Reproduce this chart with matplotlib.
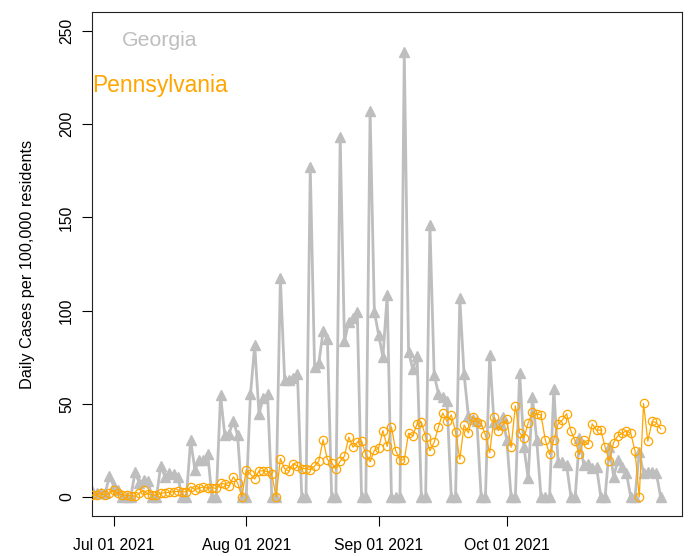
import matplotlib
matplotlib.use("Agg")
import matplotlib.pyplot as plt
import pandas as pd

plt.rcParams["font.family"] = ["Liberation Sans", "DejaVu Sans"]

# one value per day, Jun 26 2021 .. Nov 06 2021
dates = pd.date_range("2021-06-26", "2021-11-06", freq="D")

georgia = [3, 2, 2, 2, 11, 6, 4, 0, 0, 0,
           13.5, 7.3, 9, 8.3, 0, 0, 16.7, 10.8, 13, 12.5,
           10.8, 0, 0, 30.3, 14.6, 20, 20, 22.9, 0, 0,
           54.6, 33, 34, 41, 33, 0, 0, 55, 81.4, 44.5,
           53.3, 55, 0, 0, 117.5, 63, 63, 64, 65.8, 0,
           0, 177, 70, 72, 88.8, 85, 0, 0, 193, 83.5,
           94, 96, 99.5, 0, 0, 207, 99.5, 87, 75, 108.3,
           0, 0, 0, 239, 78, 68.4, 75.5, 0, 0, 146,
           65.4, 55.5, 53.4, 51.3, 0, 0, 106.5, 65.8, 43.5, 42,
           40.5, 0, 0, 76.4, 40, 39, 43, 30.4, 0, 0,
           66.7, 26.8, 10, 53.4, 30.4, 0, 0, 0, 58, 18.8,
           18.8, 17, 0, 0, 31.5, 17, 17.5, 15.3, 16, 0,
           0, 26.8, 10.8, 19.7, 16.2, 12.6, 0, 0, 24, 12.6,
           13.5, 13.5, 12.6, 0]

pennsylvania = [1, 1, 2, 1, 2, 3.5, 2, 1, 1, 0.5,
                0.5, 2, 3.5, 1.5, 1, 1, 2, 2.3, 2.5, 2.8,
                3, 2.8, 2.8, 5.5, 4, 4.6, 5.5, 4.6, 5, 4.6,
                7.3, 6.9, 5.8, 10.8, 7.5, 0, 14.5, 12.2, 9.6, 14,
                14, 13.7, 12.2, 0, 20.6, 15.2, 13.8, 17.9, 16.5, 15.2,
                15.2, 14.7, 16.5, 19.2, 30.7, 20.1, 18.4, 14.9, 19.2, 21.9,
                32.1, 26.7, 29.4, 29.9, 23.2, 18.8, 25, 26.2, 35.6, 27.1,
                37.6, 24.8, 19.9, 19.9, 34.2, 32.9, 39.2, 40.1, 32.4, 24.8,
                29.4, 37.6, 45, 40.5, 44, 35, 20.2, 38.6, 34.4, 43.1,
                40.4, 39.2, 33.3, 23.7, 42.8, 35.6, 38.3, 41.7, 26.6, 48.9,
                34.4, 31.6, 39.7, 45.4, 44.5, 44, 30.7, 22.8, 30.7, 39.2,
                41.3, 44.7, 35.5, 30, 22.8, 30.5, 28.2, 39.2, 35.8, 36,
                26.8, 19.2, 29.2, 32.8, 34.2, 35.6, 34.2, 24.7, 0, 50.2,
                29.9, 40.5, 40, 36.5]

tick_dates = pd.to_datetime(["2021-07-01", "2021-08-01", "2021-09-01", "2021-10-01"])
tick_labels = ["Jul 01 2021", "Aug 01 2021", "Sep 01 2021", "Oct 01 2021"]
y_ticks = [0, 50, 100, 150, 200, 250]

grey = "#BEBEBE"
orange = "#FFA500"

fig = plt.figure(figsize=(6.92, 5.56), dpi=100)
ax = fig.add_axes([92 / 692, 1 - 515.6 / 556, 590 / 692, 503.2 / 556])

ax.plot(dates, georgia, color=grey, lw=2, marker="^", ms=6.5,
        mfc=grey, mec=grey, zorder=2)
ax.plot(dates, pennsylvania, color=orange, lw=0.9, marker="o", ms=6,
        mfc="none", mec=orange, mew=0.9, zorder=3)

ax.set_xlim(dates[0] - pd.Timedelta(hours=2), dates[0] + pd.Timedelta(days=138))
ax.set_ylim(-10, 260)

ax.set_xticks(tick_dates)
ax.set_xticklabels(tick_labels)
ax.set_yticks(y_ticks)
ax.set_yticklabels([str(v) for v in y_ticks], rotation=90, va="center")
ax.tick_params(axis="both", length=7, width=0.8, labelsize=11.3)
ax.tick_params(axis="x", pad=9)
ax.tick_params(axis="y", pad=6)

for s in ax.spines.values():
    s.set_linewidth(0.8)
    s.set_color("#222222")

ax.set_ylabel("Daily Cases per 100,000 residents", fontsize=11.7)
ax.yaxis.set_label_coords(-0.097, 0.5)

ax.text(0.1153, 0.9332, "Georgia", color=grey, fontsize=15.3,
        ha="center", va="baseline", transform=ax.transAxes)
ax.text(0.1153, 0.8424, "Pennsylvania", color=orange, fontsize=16.4,
        ha="center", va="baseline", transform=ax.transAxes)

fig.savefig("out.png", dpi=100)
